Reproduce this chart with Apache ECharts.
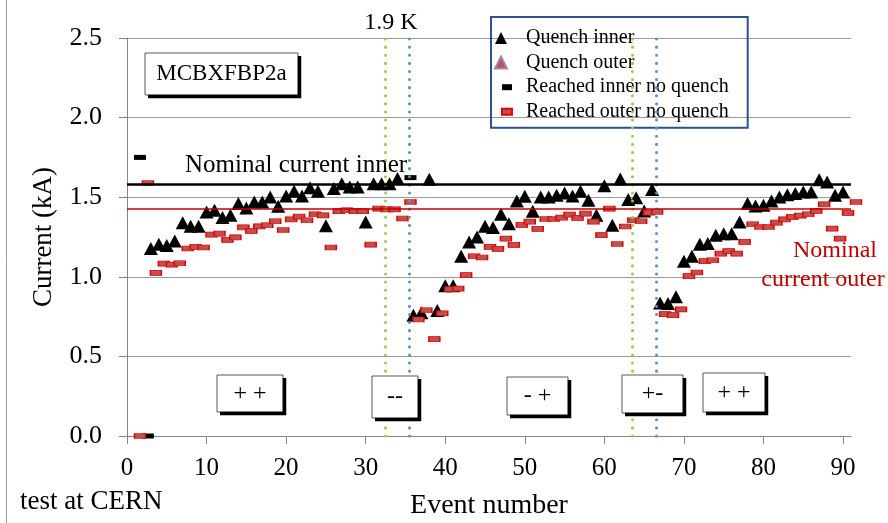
<!DOCTYPE html>
<html>
<head>
<meta charset="utf-8">
<script src="https://cdn.jsdelivr.net/npm/echarts@6/dist/echarts.min.js"></script>
<style>
html, body { margin: 0; padding: 0; background: #fff; }
#chart { width: 888px; height: 523px; }
</style>
</head>
<body>
<div id="chart"></div>
<script>
var serif = '"Liberation Serif", "Times New Roman", serif';

// event numbers (x)
var events = [1, 2, 3, 4, 5, 6, 7, 8, 9, 10, 11, 12, 13, 14, 15, 16, 17, 18, 19, 20,
	21, 22, 23, 24, 25, 26, 27, 28, 29, 30, 31, 32, 33, 34, 35, 36, 37, 38, 39, 40,
	41, 42, 43, 44, 45, 46, 47, 48, 49, 50, 51, 52, 53, 54, 55, 56, 57, 58, 59, 60,
	61, 62, 63, 64, 65, 66, 67, 68, 69, 70, 71, 72, 73, 74, 75, 76, 77, 78, 79, 80,
	81, 82, 83, 84, 85, 86, 87, 88, 89, 90, 91];

// currents in kA, null = no such point for that event
var quenchInner = [null, null, 1.178, 1.205, 1.196, 1.225, 1.34, 1.317, 1.317, 1.407,
	1.418, 1.372, 1.386, 1.46, 1.432, 1.47, 1.47, 1.501, 1.443, 1.508,
	1.537, 1.508, 1.56, 1.537, 1.32, 1.554, 1.585, 1.564, 1.564, 1.344,
	1.585, 1.585, 1.585, 1.617, null, 0.759, 0.774, 1.612, 0.788, 0.944,
	0.944, 1.129, 1.218, 1.25, 1.317, 1.309, 1.393, 1.334, 1.476, 1.506,
	1.412, 1.501, 1.501, 1.512, 1.527, 1.508, 1.537, 1.481, 1.386, 1.572,
	1.324, 1.614, 1.485, 1.497, 1.414, 1.548, 0.836, 0.832, 0.874, 1.098,
	1.129, 1.205, 1.209, 1.261, 1.271, 1.271, 1.344, 1.46, 1.445, 1.449,
	1.476, 1.501, 1.516, 1.523, 1.533, 1.533, 1.61, 1.596, 1.512, 1.533, null];

var quenchOuter = [];

var reachedInnerEvents = [1, 2, 35];
var reachedInner = [1.75, 0, 1.623];

var reachedOuter = [0, 1.589, 1.025, 1.083, 1.077, 1.085, 1.178, 1.188, 1.184, 1.265,
	1.271, 1.232, 1.248, 1.311, 1.288, 1.317, 1.324, 1.349, 1.294, 1.361,
	1.378, 1.355, 1.393, 1.386, 1.184, 1.412, 1.418, 1.412, 1.412, 1.202,
	1.428, 1.424, 1.424, 1.366, 1.47, 0.732, 0.79, 0.608, 0.77, 0.922,
	0.926, 1.01, 1.129, 1.121, 1.188, 1.175, 1.24, 1.2, 1.326, 1.347,
	1.301, 1.363, 1.363, 1.372, 1.391, 1.37, 1.397, 1.347, 1.262, 1.428,
	1.206, 1.316, 1.355, 1.349, 1.403, 1.407, 0.765, 0.759, 0.795, 1.004,
	1.027, 1.098, 1.104, 1.146, 1.161, 1.146, 1.219, 1.33, 1.313, 1.313,
	1.34, 1.361, 1.376, 1.384, 1.393, 1.414, 1.455, 1.303, 1.24, 1.401, 1.47];

var nominalInner = 1.58;
var nominalOuter = 1.425;
var coolDownEvents = [32.5, 63.5];   // 1.9 K
var warmUpEvents = [35.5, 66.5];
var yTicks = [0, 0.5, 1.0, 1.5, 2.0, 2.5];

function pairs(xs, ys) {
	var out = [];
	for (var i = 0; i < xs.length; i++) {
		if (ys[i] !== null && ys[i] !== undefined) out.push([xs[i], ys[i]]);
	}
	return out;
}

var triIcon = 'path://M0,12L6,0L12,12Z M17,6';
var dashIcon = 'path://M0,0 M17,12 M7,3L17,3L17,9L7,9Z';

var guideLines = [];
coolDownEvents.forEach(function (x) {
	guideLines.push({ xAxis: x, lineStyle: { color: '#92d050', width: 3, type: [0.1, 8], cap: 'round' } });
});
warmUpEvents.forEach(function (x) {
	guideLines.push({ xAxis: x, lineStyle: { color: '#5b8fd0', width: 3, type: [0.1, 8], cap: 'round' } });
});
guideLines.push({ yAxis: nominalInner, lineStyle: { color: '#000', width: 2.5, type: 'solid' } });
guideLines.push({ yAxis: nominalOuter, lineStyle: { color: '#c00000', width: 1.5, type: 'solid' } });

function txt(text, x, y, size, color, align) {
	return {
		type: 'text', z: 110, silent: true,
		style: {
			text: text, x: x, y: y, fill: color || '#000',
			font: size + 'px ' + serif,
			textAlign: align || 'left', textVerticalAlign: 'middle',
			align: align || 'left', verticalAlign: 'middle'
		}
	};
}

var graphics = [
	{ type: 'line', z: 100, silent: true, shape: { x1: 6.5, y1: 0, x2: 6.5, y2: 523 },
		style: { stroke: '#9a9a9a', lineWidth: 1 } }
];

// text box with a hard black drop shadow on the right and bottom
function addBox(text, x, y, w, h, size) {
	graphics.push({
		type: 'rect', z: 105, silent: true,
		shape: { x: x, y: y, width: w, height: h },
		style: { fill: '#fff', stroke: '#595959', lineWidth: 1 }
	});
	graphics.push({
		type: 'polyline', z: 106, silent: true,
		shape: { points: [[x + w + 1.5, y + 3], [x + w + 1.5, y + h + 1.5], [x + 3, y + h + 1.5]] },
		style: { stroke: '#000', lineWidth: 3.5, fill: null }
	});
	graphics.push(txt(text, x + w / 2, y + h / 2, size, '#000', 'center'));
}

addBox('MCBXFBP2a', 145, 53, 153, 42, 23);
addBox('+ +', 217, 375, 66, 37, 24);
addBox('--', 372, 376, 46, 42, 24);
addBox('- +', 507, 377, 61, 38, 24);
addBox('+-', 622, 375, 61, 38, 24);
addBox('+ +', 703, 373, 62, 39, 24);
graphics.push(txt('1.9 K', 391, 23, 24, '#000', 'center'));
graphics.push(txt('Nominal current inner', 185, 165, 25, '#000', 'left'));
graphics.push(txt('Nominal', 835, 251, 24, '#c00000', 'center'));
graphics.push(txt('current outer', 823, 280, 24, '#c00000', 'center'));
graphics.push(txt('test at CERN', 20, 502, 27, '#000', 'left'));

var option = {
	animation: false,
	grid: { left: 127, right: 37, top: 38, bottom: 87, outerBoundsMode: 'none', containLabel: false },
	xAxis: {
		type: 'value', min: 0, max: 91, interval: 10,
		name: 'Event number', nameLocation: 'middle', nameGap: 56,
		nameTextStyle: { fontFamily: serif, fontSize: 28, color: '#000' },
		axisLine: { show: true, lineStyle: { color: '#868686', width: 1 } },
		axisTick: { show: true, length: 8, lineStyle: { color: '#868686' } },
		axisLabel: { fontFamily: serif, fontSize: 25, color: '#000', margin: 20, showMaxLabel: false },
		splitLine: { show: false }
	},
	yAxis: {
		type: 'value', min: yTicks[0], max: yTicks[yTicks.length - 1], interval: 0.5,
		name: 'Current (kA)', nameLocation: 'middle', nameGap: 70,
		nameTextStyle: { fontFamily: serif, fontSize: 27, color: '#000' },
		axisLine: { show: true, lineStyle: { color: '#868686', width: 1 } },
		axisTick: { show: true, length: 8, lineStyle: { color: '#868686' } },
		axisLabel: { fontFamily: serif, fontSize: 26, color: '#000', margin: 25,
			formatter: function (v) { return v.toFixed(1); } },
		splitLine: { show: true, lineStyle: { color: '#9a9a9a', width: 1 } }
	},
	legend: {
		orient: 'vertical', left: 491, top: 17,
		padding: [11, 19, 6, 3],
		borderColor: '#2f528f', borderWidth: 2,
		itemWidth: 17, itemHeight: 12, itemGap: 4.6,
		selectedMode: false,
		textStyle: { fontFamily: serif, fontSize: 20, color: '#000', padding: [0, 0, 0, 9] },
		data: [
			{ name: 'Quench inner', icon: triIcon },
			{ name: 'Quench outer', icon: triIcon },
			{ name: 'Reached inner no quench', icon: dashIcon },
			{ name: 'Reached outer no quench', icon: dashIcon }
		]
	},
	series: [{
		name: 'guides', type: 'scatter', data: [], z: 1, silent: true,
		markLine: { silent: true, symbol: 'none', label: { show: false }, data: guideLines }
	}, {
		name: 'Quench inner', type: 'scatter', z: 3,
		symbol: 'triangle', symbolSize: [14, 13],
		itemStyle: { color: '#000', opacity: 1 },
		data: pairs(events, quenchInner)
	}, {
		name: 'Quench outer', type: 'scatter', z: 3,
		symbol: 'triangle', symbolSize: [14, 13],
		itemStyle: { color: '#c0504d', borderColor: '#9d85be', borderWidth: 1, opacity: 1 },
		data: quenchOuter
	}, {
		name: 'Reached inner no quench', type: 'scatter', z: 3,
		symbol: 'rect', symbolSize: [12, 5], symbolOffset: [5, 0],
		itemStyle: { color: '#000', opacity: 1 },
		data: pairs(reachedInnerEvents, reachedInner)
	}, {
		name: 'Reached outer no quench', type: 'scatter', z: 4,
		symbol: 'rect', symbolSize: [11, 5], symbolOffset: [5, 0],
		itemStyle: { color: '#c0504d', borderColor: '#e00000', borderWidth: 1, opacity: 1 },
		data: pairs(events, reachedOuter)
	}],
	graphic: graphics
};

var myChart = echarts.init(document.getElementById('chart'));
myChart.setOption(option);
</script>
</body>
</html>
